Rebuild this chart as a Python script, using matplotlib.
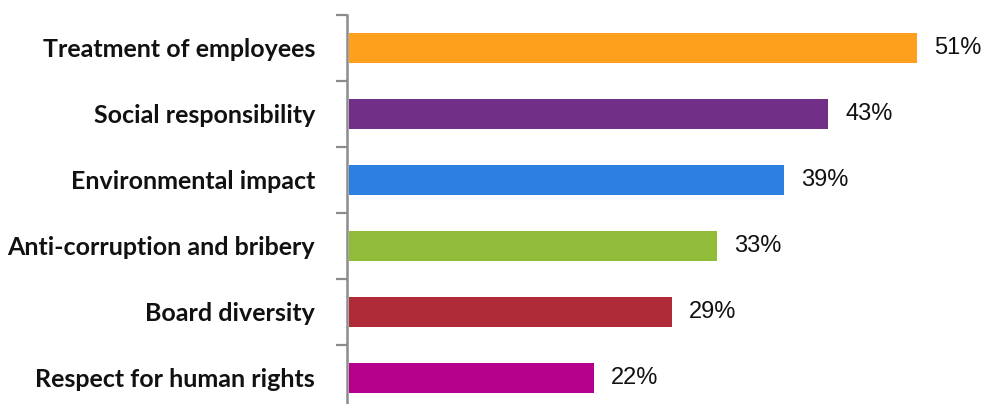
import matplotlib
matplotlib.use("Agg")
import matplotlib.pyplot as plt
from matplotlib.ticker import FixedLocator

categories = [
    "Treatment of employees",
    "Social responsibility",
    "Environmental impact",
    "Anti-corruption and bribery",
    "Board diversity",
    "Respect for human rights",
]
values = [51, 43, 39, 33, 29, 22]
value_labels = ["51%", "43%", "39%", "33%", "29%", "22%"]
colors = ["#FFA01C", "#722F87", "#2D7FE2", "#90BC3A", "#AE2B37", "#B5008C"]

fig = plt.figure(figsize=(9.92, 4.04), dpi=100)
ax = fig.add_axes([0.3498, -0.0173, 0.6502, 0.9802])

pos = list(range(len(categories)))
ax.barh(pos, values, height=0.46, color=colors, left=0.15)

for p, v, lab in zip(pos, values, value_labels):
    ax.text(v + 1.7, p, lab, va="center", ha="left",
            fontsize=17, family="Liberation Sans", color="#111111")

ax.set_xlim(0, 57.85)
ax.set_ylim(len(categories) - 0.5, -0.5)

# category boundaries carry the tick marks; names sit at the centres
ax.yaxis.set_major_locator(FixedLocator([i - 0.5 for i in range(len(categories) + 1)]))
ax.yaxis.set_major_formatter(plt.NullFormatter())
ax.yaxis.set_minor_locator(FixedLocator(pos))
ax.set_yticklabels(categories, minor=True, fontsize=18,
                   fontweight="bold", family="Lato")
ax.tick_params(axis="y", which="major", length=8, width=1.6, color="#8c8c8c")
ax.tick_params(axis="y", which="minor", length=0, pad=23, colors="#111111")

ax.set_xticks([])
for s in ["top", "right", "bottom"]:
    ax.spines[s].set_visible(False)
ax.spines["left"].set_color("#8c8c8c")
ax.spines["left"].set_linewidth(1.8)

fig.savefig("out.png", dpi=100)
